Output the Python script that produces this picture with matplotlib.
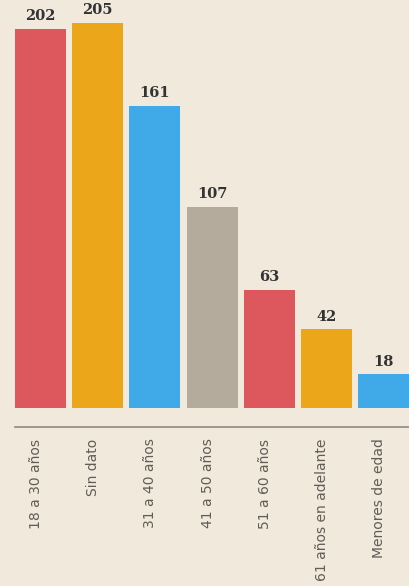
import matplotlib
matplotlib.use("Agg")
import matplotlib.pyplot as plt
import numpy as np

#-------------- data ---------------------
categories = ["18 a 30 años", "Sin dato", "31 a 40 años", "41 a 50 años",
              "51 a 60 años", "61 años en adelante", "Menores de edad"]
values = [202, 205, 161, 107, 63, 42, 18]
colors = ["#dc585c", "#eba619", "#40a9e8", "#b4ab9d",
          "#dc585c", "#eba619", "#40a9e8"]
#-----------------------------------------

bg = "#f1e9dc"
W, H = 409, 586
fig = plt.figure(figsize=(W / 100, H / 100), dpi=100, facecolor=bg)

base = 408  # pixel row of bar bottoms
ax = fig.add_axes([0, (H - base) / H, 1, base / H])
ax.set_facecolor(bg)

pitch = 57.2
x0 = 40.5
ax.set_xlim(-x0 / pitch, (W - x0) / pitch)
ax.set_ylim(0, base / 1.878)

x = np.arange(len(values))
bars = ax.bar(x, values, width=0.89, color=colors, zorder=2)

for xi, v in zip(x, values):
    ax.annotate(str(v), (xi, v), xytext=(0, 4), textcoords="offset points",
                ha="center", va="bottom", fontsize=10.5, fontweight="bold",
                family="DejaVu Serif", color="#333333")

# separator line under the bars
ax.axhline(-19 / 1.878, xmin=15 / W, xmax=1, color="#8f8a82", lw=1.2,
           clip_on=False)

ax.set_xticks(x - 0.08)
ax.set_xticklabels(categories, rotation=90, va="top", ha="center",
                   fontsize=10, color="#615c56")
ax.tick_params(axis="x", length=0, pad=22)
ax.set_yticks([])
for s in ax.spines.values():
    s.set_visible(False)

fig.savefig("out.png", dpi=100, facecolor=bg)
